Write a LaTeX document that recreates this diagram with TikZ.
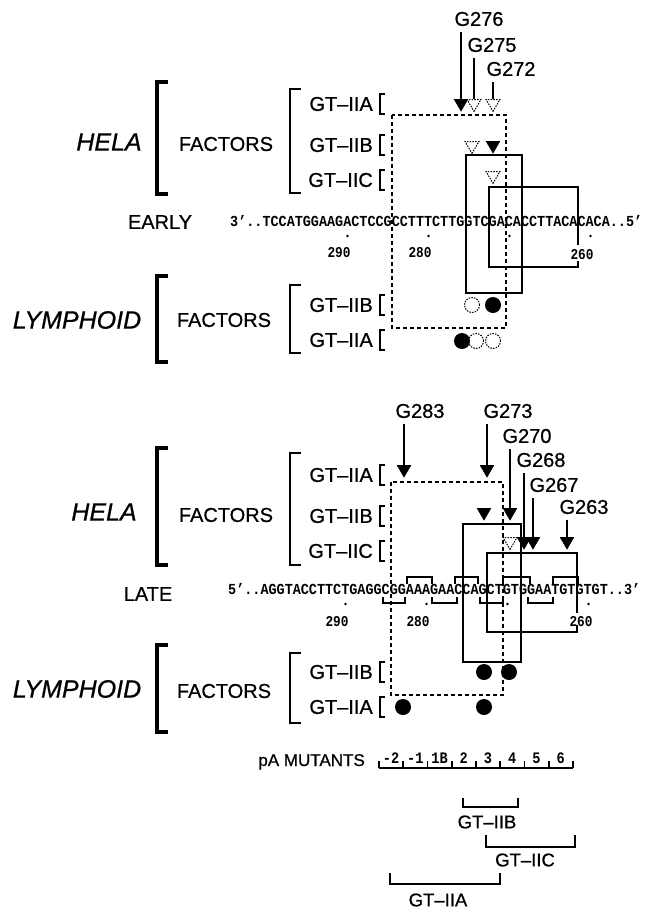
\documentclass[tikz,border=0pt]{standalone}
\usepackage{fontspec}
\setmainfont{Liberation Sans}[UprightFeatures={FakeBold=0.7}, ItalicFeatures={FakeBold=0.7}]
\newfontfamily\seqfont{Liberation Mono}[FakeStretch=0.88, BoldFeatures={FakeStretch=0.88}]
\newfontfamily\numfont{Liberation Mono}[FakeStretch=0.85, BoldFeatures={FakeStretch=0.85}]
\usetikzlibrary{shapes.geometric}

\begin{document}
\begin{tikzpicture}[x=1pt, y=-1pt]
  % Define styles
  \tikzstyle{lbl}=[font=\fontsize{20}{22}\selectfont, inner sep=0pt]
  \tikzstyle{cell}=[font=\fontsize{25}{27}\selectfont\itshape, inner sep=0pt]
  \tikzstyle{seq}=[font=\seqfont\bfseries\fontsize{15.3}{17}\selectfont, inner sep=0pt, anchor=west]
  \tikzstyle{num}=[font=\numfont\bfseries\fontsize{15}{17}\selectfont, inner sep=0pt]
  \tikzstyle{hit}=[regular polygon, regular polygon sides=3, shape border rotate=180, fill=black, draw=black, minimum size=16pt, inner sep=0pt, anchor=north]
  \tikzstyle{miss}=[hit, fill=none, dash pattern=on 1.5pt off 1.2pt, line width=1pt]
  \tikzstyle{bound}=[circle, fill=black, minimum size=16pt, inner sep=0pt]
  \tikzstyle{free}=[circle, draw, dash pattern=on 1.5pt off 1.2pt, line width=1pt, minimum size=15pt, inner sep=0pt]
  \tikzstyle{brk}=[line width=1.6pt]
  \tikzstyle{bigbrk}=[line width=3.5pt]
  \tikzstyle{site}=[line width=1.5pt]
  \tikzstyle{zone}=[line width=1.4pt, dash pattern=on 4pt off 3pt]
  \tikzstyle{probe}=[line width=1.3pt]

  \useasboundingbox (0,0) rectangle (666,911);

  % Cell and factor labels
  \node[cell] (hela1) at (109,142) {HELA};
  \node[lbl] (fac1) at (226,144) {FACTORS};
  \node[lbl] (early) at (160,222) {EARLY};
  \node[cell] (lym1) at (77,320) {LYMPHOID};
  \node[lbl] (fac2) at (224,320) {FACTORS};
  \node[cell] (hela2) at (104,512) {HELA};
  \node[lbl] (fac3) at (226,515) {FACTORS};
  \node[lbl] (late) at (148,594) {LATE};
  \node[cell] (lym2) at (77,689) {LYMPHOID};
  \node[lbl] (fac4) at (224,691) {FACTORS};

  % Big brackets
  \foreach \x/\a/\b/\s in {157/82/194/bigbrk, 157/276/362/bigbrk, 157/448/565/bigbrk, 157/645/732/bigbrk,
                          290/89/193/brk, 290/285/353/brk, 290/453/565/brk, 290/653/723/brk}
    \draw[\s] (\x+11,\a) -- (\x,\a) -- (\x,\b) -- (\x+11,\b);

  % Factor rows
  \foreach \n/\t/\y in {eA/GT–IIA/104, eB/GT–IIB/145, eC/GT–IIC/180, eLB/GT–IIB/305, eLA/GT–IIA/340,
                        lA/GT–IIA/475, lB/GT–IIB/516, lC/GT–IIC/551, lLB/GT–IIB/672, lLA/GT–IIA/707}
  {
    \node[lbl, anchor=east] (\n) at (373,\y) {\t};
    \draw[brk] (385,\y-10) -- (380,\y-10) -- (380,\y+10) -- (385,\y+10);
  }

  % Early sequence
  \node[seq] (eseq) at (230,221) {3’..TCCATGGAAGACTCCGCCTTTCTTGGTCGACACCTTACACACA..5’};
  \foreach \i in {14,24,34,44}
    \fill ({230+(\i+0.5)*8.1},236) circle (1.4);
  \node[num] (e290) at (339,253) {290};
  \node[num] (e280) at (420,253) {280};
  \node[num] (e260) at (582,255) {260};

  % Early boxes
  \draw[zone] (392,115) rectangle (506,328);
  \draw[site] (466,155) rectangle (522,293);
  \draw[site] (578,245) -- (578,187) -- (489,187) -- (489,267) -- (578,267) -- (578,261);

  % Early HeLa interference
  \node[lbl] (g276) at (479,19) {G276};
  \node[lbl] (g275) at (492,45) {G275};
  \node[lbl] (g272) at (511,69) {G272};
  \node[hit] (t276) at (461,99) {};
  \node[miss] (t275) at (474,99) {};
  \node[miss] (t272) at (493,99) {};
  \node[miss] (b275) at (472,141) {};
  \node[hit] (b272) at (493,141) {};
  \node[miss] (c272) at (493,171) {};
  \draw[probe] ([yshift=-6pt]g276.south -| t276.north) -- (t276.north);
  \draw[probe] ([yshift=-6pt]g275.south -| t275.north) -- (t275.north);
  \draw[probe] ([yshift=-6pt]g272.south -| t272.north) -- (t272.north);

  % Early lymphoid interference
  \node[free] (lb1) at (472,305) {};
  \node[bound] (lb2) at (493,305) {};
  \node[bound] (la1) at (462,341) {};
  \node[free] (la2) at (476,341) {};
  \node[free] (la3) at (493,341) {};

  % Late sequence
  \node[seq] (lseq) at (228,589) {5’..AGGTACCTTCTGAGGCGGAAAGAACCAGCTGTGGAATGTGTGT..3’};
  \foreach \i in {14,24,34,44}
    \fill ({228+(\i+0.5)*8.1},604) circle (1.4);
  \foreach \a/\b in {407/432, 455/478, 503/530, 553/578}
    \draw[brk] (\a,584) -- (\a,577) -- (\b,577) -- (\b,584);
  \foreach \a/\b in {383/405, 432/457, 480/503, 528/553}
    \draw[brk] (\a,597) -- (\a,603) -- (\b,603) -- (\b,597);
  \node[num] (l290) at (337,622) {290};
  \node[num] (l280) at (418,622) {280};
  \node[num] (l260) at (581,622) {260};

  % Late boxes
  \draw[zone] (391,482) rectangle (503,695);
  \draw[site] (463,524) rectangle (521,662);
  \draw[site] (577,613) -- (577,553) -- (487,553) -- (487,632) -- (577,632) -- (577,625);

  % Late HeLa interference
  \node[lbl] (g283) at (420,411) {G283};
  \node[lbl] (g273) at (508,411) {G273};
  \node[lbl] (g270) at (527,436) {G270};
  \node[lbl] (g268) at (541,460) {G268};
  \node[lbl] (g267) at (554,485) {G267};
  \node[lbl] (g263) at (584,507) {G263};
  \node[hit] (t283) at (404,465) {};
  \node[hit] (t273) at (487,465) {};
  \node[hit] (b273) at (484,508) {};
  \node[hit] (b270) at (510,508) {};
  \node[miss] (c270) at (510,537) {};
  \node[hit] (c268) at (524,537) {};
  \node[hit] (c267) at (533,537) {};
  \node[hit] (c263) at (567,537) {};
  \draw[probe] ([yshift=-6pt]g283.south -| t283.north) -- (t283.north);
  \draw[probe] ([yshift=-6pt]g273.south -| t273.north) -- (t273.north);
  \draw[probe] ([yshift=-6pt]g270.south -| b270.north) -- (b270.north);
  \draw[probe] ([yshift=-6pt]g268.south -| c268.north) -- (c268.north);
  \draw[probe] ([yshift=-6pt]g267.south -| c267.north) -- (c267.north);
  \draw[probe] ([yshift=-6pt]g263.south -| c263.north) -- (c263.north);

  % Late lymphoid interference
  \node[bound] (mb1) at (484,672) {};
  \node[bound] (mb2) at (509,672) {};
  \node[bound] (ma1) at (403,707) {};
  \node[bound] (ma2) at (484,707) {};

  % pA mutants
  \node[lbl, font=\fontsize{17}{19}\selectfont, anchor=base east] (pa) at (365,766) {pA MUTANTS};
  \draw[brk] (379,768) -- (573,768);
  \foreach \k in {0,...,8}
    \draw[brk] ({379+\k*24.25},768) -- ({379+\k*24.25},761);
  \foreach \t [count=\k from 0] in {-2,-1,1B,2,3,4,5,6}
    \node[num, font=\numfont\bfseries\fontsize{16}{18}\selectfont, anchor=base] (m\k) at ({391+\k*24.25},763) {\t};

  % Footprint spans
  \draw[brk] (463,798) -- (463,807) -- (518,807) -- (518,798);
  \node[lbl, font=\fontsize{18.5}{20}\selectfont] (spanB) at (487,822) {GT–IIB};
  \draw[brk] (486,835) -- (486,847) -- (575,847) -- (575,835);
  \node[lbl, font=\fontsize{18.5}{20}\selectfont] (spanC) at (525,860) {GT–IIC};
  \draw[brk] (390,873) -- (390,884) -- (500,884) -- (500,873);
  \node[lbl, font=\fontsize{18.5}{20}\selectfont] (spanA) at (438,900) {GT–IIA};
\end{tikzpicture}
\end{document}
